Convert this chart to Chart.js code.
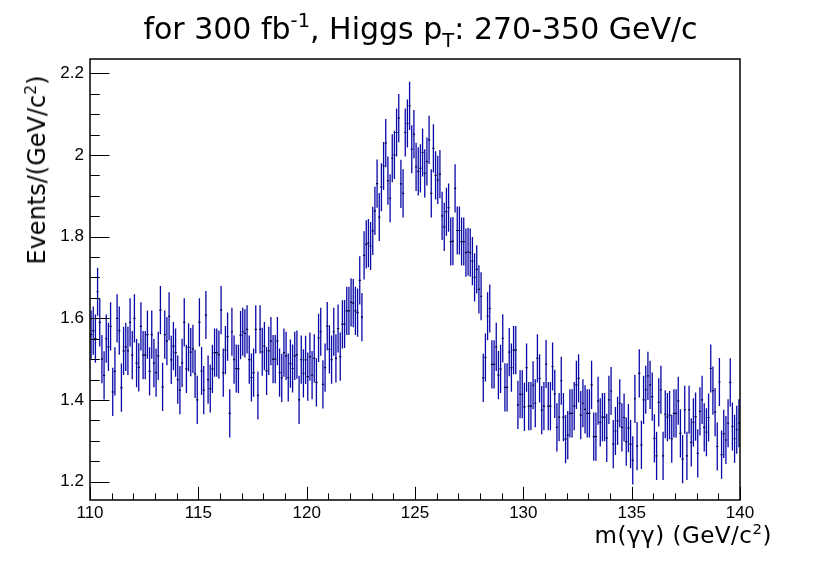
<!DOCTYPE html>
<html lang="en">
<head>
<meta charset="UTF-8" />
<title>Higgs pT 270-350 GeV/c</title>
<script src="https://cdn.jsdelivr.net/npm/chart.js"></script>
<style>
  html, body { margin: 0; padding: 0; background: #fff; }
  #wrap { position: relative; width: 830px; height: 563px; }
  #plot { position: absolute; left: 0; top: 0; }
  .lbl { position: absolute; font-family: "DejaVu Sans", sans-serif; color: #000; white-space: nowrap; }
  #title { left: 0; width: 841px; text-align: center; top: 11px; font-size: 30px; }
  #ytitle { left: 37px; top: 170px; font-size: 24px; transform: translate(-50%, -50%) rotate(-90deg); }
  #xtitle { right: 58px; top: 522px; font-size: 23px; letter-spacing: 0.5px; }
  sup { font-size: 0.65em; vertical-align: 0.6em; line-height: 0; }
  sub { font-size: 0.65em; vertical-align: -0.4em; line-height: 0; }
</style>
</head>
<body>
<div id="wrap">
  <canvas id="plot" width="830" height="563"></canvas>
  <div class="lbl" id="title">for 300 fb<sup>-1</sup>, Higgs p<sub>T</sub>: 270-350 GeV/c</div>
  <div class="lbl" id="ytitle">Events/(GeV/c<sup>2</sup>)</div>
  <div class="lbl" id="xtitle">m(γγ) (GeV/c<sup>2</sup>)</div>
</div>
<script>
  // histogram: 300 bins of 0.1 GeV from 110 to 140
  const massLow = 110;
  const binWidth = 0.1;
  const binError = 0.059;

  // bin contents, 5 GeV per array
  const events110 = [
    1.56, 1.57, 1.55, 1.665, 1.59, 1.50, 1.46, 1.55, 1.53, 1.58,
    1.42, 1.47, 1.60, 1.57, 1.43, 1.52, 1.53, 1.52, 1.59, 1.51,
    1.60, 1.49, 1.48, 1.58, 1.51, 1.51, 1.56, 1.47, 1.56, 1.49,
    1.467, 1.508, 1.620, 1.432, 1.560, 1.544, 1.605, 1.498, 1.532, 1.516,
    1.450, 1.424, 1.491, 1.590, 1.476, 1.529, 1.517, 1.525, 1.464, 1.400
  ];
  const events115 = [
    1.590, 1.471, 1.424, 1.608, 1.450, 1.428, 1.476, 1.516, 1.516, 1.511,
    1.620, 1.467, 1.522, 1.555, 1.367, 1.567, 1.499, 1.477, 1.476, 1.559,
    1.567, 1.563, 1.573, 1.499, 1.455, 1.467, 1.573, 1.411, 1.573, 1.518,
    1.532, 1.471, 1.520, 1.544, 1.500, 1.500, 1.544, 1.467, 1.454, 1.516,
    1.508, 1.455, 1.489, 1.477, 1.508, 1.511, 1.400, 1.499, 1.465, 1.498
  ];
  const events120 = [
    1.457, 1.506, 1.461, 1.502, 1.443, 1.552, 1.567, 1.438, 1.479, 1.581,
    1.524, 1.499, 1.567, 1.502, 1.575, 1.506, 1.585, 1.586, 1.618, 1.618,
    1.639, 1.637, 1.618, 1.614, 1.693, 1.603, 1.754, 1.781, 1.784, 1.777,
    1.814, 1.863, 1.930, 1.848, 1.921, 1.973, 2.029, 1.937, 1.894, 1.992,
    2.000, 2.055, 2.090, 1.929, 1.906, 2.055, 2.077, 2.120, 2.014, 2.051
  ];
  const events125 = [
    1.971, 1.960, 1.967, 2.006, 1.955, 1.984, 2.037, 1.906, 2.016, 1.950,
    1.939, 1.953, 1.851, 1.824, 1.861, 1.871, 1.788, 1.789, 1.918, 1.815,
    1.815, 1.788, 1.788, 1.761, 1.763, 1.761, 1.740, 1.700, 1.720, 1.671,
    1.654, 1.454, 1.504, 1.605, 1.624, 1.487, 1.487, 1.530, 1.461, 1.476,
    1.551, 1.431, 1.431, 1.517, 1.479, 1.522, 1.522, 1.388, 1.414, 1.414
  ];
  const events130 = [
    1.383, 1.479, 1.385, 1.385, 1.436, 1.392, 1.502, 1.453, 1.375, 1.385,
    1.488, 1.385, 1.385, 1.482, 1.415, 1.333, 1.358, 1.447, 1.358, 1.304,
    1.314, 1.367, 1.367, 1.385, 1.437, 1.453, 1.363, 1.392, 1.377, 1.367,
    1.367, 1.437, 1.310, 1.310, 1.398, 1.345, 1.358, 1.358, 1.307, 1.400,
    1.422, 1.292, 1.324, 1.349, 1.392, 1.333, 1.357, 1.298, 1.331, 1.292
  ];
  const events135 = [
    1.252, 1.403, 1.287, 1.465, 1.290, 1.400, 1.425, 1.459, 1.437, 1.408,
    1.306, 1.263, 1.394, 1.425, 1.263, 1.365, 1.358, 1.363, 1.305, 1.367,
    1.367, 1.398, 1.318, 1.255, 1.376, 1.263, 1.376, 1.296, 1.345, 1.359,
    1.269, 1.372, 1.400, 1.333, 1.321, 1.357, 1.477, 1.423, 1.370, 1.286,
    1.444, 1.266, 1.317, 1.302, 1.343, 1.443, 1.335, 1.305, 1.327, 1.343
  ];

  const xTicks = [110, 115, 120, 125, 130, 135, 140];
  const yTicks = [1.2, 1.4, 1.6, 1.8, 2.0, 2.2];

  const events = [].concat(events110, events115, events120, events125, events130, events135);
  const points = events.map((v, i) => ({ x: massLow + binWidth * (i + 0.5), y: v }));

  // ROOT-like error bars: vertical error + horizontal bin width
  const errorBars = {
    id: "errorBars",
    afterDatasetsDraw(chart) {
      const { ctx, chartArea, scales: { x, y } } = chart;
      ctx.save();
      ctx.beginPath();
      ctx.rect(chartArea.left, chartArea.top, chartArea.right - chartArea.left, chartArea.bottom - chartArea.top);
      ctx.clip();
      ctx.strokeStyle = "#0808a8";
      ctx.lineWidth = 1.3;
      ctx.beginPath();
      points.forEach(p => {
        const px = x.getPixelForValue(p.x);
        ctx.moveTo(px, y.getPixelForValue(p.y + binError));
        ctx.lineTo(px, y.getPixelForValue(p.y - binError));
      });
      ctx.stroke();
      ctx.strokeStyle = "#00003c";
      ctx.lineWidth = 1.2;
      ctx.beginPath();
      points.forEach(p => {
        const py = y.getPixelForValue(p.y);
        ctx.moveTo(x.getPixelForValue(p.x - binWidth / 2), py);
        ctx.lineTo(x.getPixelForValue(p.x + binWidth / 2), py);
      });
      ctx.stroke();
      ctx.restore();
    }
  };

  // frame box with inward ticks
  const frame = {
    id: "frame",
    afterDraw(chart) {
      const { ctx, chartArea: a, scales: { x, y } } = chart;
      ctx.save();
      ctx.strokeStyle = "#000";
      ctx.lineWidth = 1;
      ctx.beginPath();
      for (let v = 110; v <= 140.001; v += 1) {
        const px = Math.round(x.getPixelForValue(v)) + 0.5;
        const len = (Math.round(v) % 5 === 0) ? 13.2 : 6.6;
        ctx.moveTo(px, a.bottom);
        ctx.lineTo(px, a.bottom - len);
      }
      for (let k = 24; k <= 44; k++) {
        const v = k * 0.05;
        const py = Math.round(y.getPixelForValue(v)) + 0.5;
        const len = (k % 4 === 0) ? 19.5 : 9.75;
        ctx.moveTo(a.left, py);
        ctx.lineTo(a.left + len, py);
      }
      ctx.stroke();
      ctx.lineWidth = 1.5;
      ctx.strokeRect(a.left, a.top, a.right - a.left, a.bottom - a.top);
      ctx.restore();
    }
  };

  const ctx = document.getElementById("plot").getContext("2d");
  new Chart(ctx, {
    type: "scatter",
    data: { datasets: [{ data: points, pointRadius: 0, showLine: false }] },
    options: {
      responsive: false,
      animation: false,
      events: [],
      layout: { padding: { top: 59, right: 90, left: 0, bottom: 0 } },
      plugins: { legend: { display: false }, tooltip: { enabled: false } },
      scales: {
        x: {
          type: "linear",
          min: 110,
          max: 140,
          afterBuildTicks: s => { s.ticks = xTicks.map(v => ({ value: v })); },
          afterFit: s => { s.height = 63; },
          grid: { display: false, drawTicks: false },
          border: { display: false },
          ticks: {
            padding: 3,
            color: "#000",
            maxRotation: 0,
            autoSkip: false,
            font: { family: "Liberation Sans", size: 17 },
            callback: v => String(v)
          }
        },
        y: {
          type: "linear",
          min: 1.155,
          max: 2.235,
          afterBuildTicks: s => { s.ticks = yTicks.map(v => ({ value: v })); },
          afterFit: s => { s.width = 90; },
          grid: { display: false, drawTicks: false },
          border: { display: false },
          ticks: {
            padding: 6,
            color: "#000",
            autoSkip: false,
            font: { family: "Liberation Sans", size: 17 },
            callback: v => String(Math.round(v * 10) / 10)
          }
        }
      }
    },
    plugins: [errorBars, frame]
  });
</script>
</body>
</html>
